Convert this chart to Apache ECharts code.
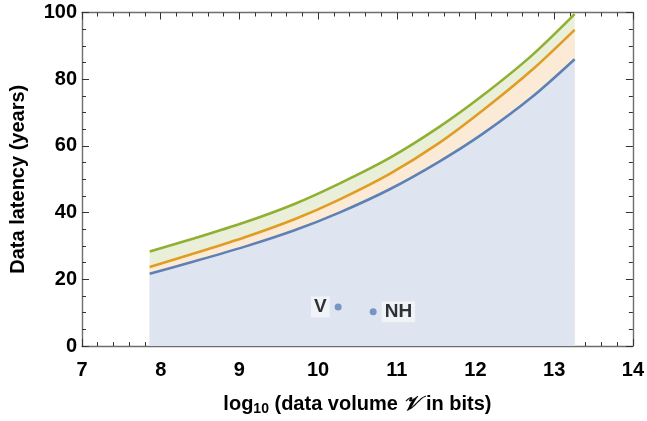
<!DOCTYPE html>
<html>
<head>
<meta charset="utf-8">
<script src="https://cdn.jsdelivr.net/npm/echarts@6/dist/echarts.min.js"></script>
<style>
html,body{margin:0;padding:0;background:#fff;}
#c{width:647px;height:421px;}
</style>
</head>
<body>
<div id="c"></div>
<script>
// log10 of data volume (bits)
var volumeX = [7.86, 8.43, 9.07, 9.70, 10.27, 10.91, 11.54, 12.09, 12.71, 13.26];
// data latency (years)
var lowerY  = [21.7, 25.4, 29.8, 34.7, 40.0, 47.0, 55.3, 63.6, 74.5, 86.0];
var midY    = [23.7, 27.8, 32.6, 38.0, 43.9, 51.6, 60.9, 70.6, 82.6, 94.8];
var upperY  = [28.3, 32.3, 37.1, 42.6, 48.7, 56.4, 65.7, 75.1, 87.0, 99.5];
// missions
var missionNames = ['V', 'NH'];
var missionX = [10.255, 10.70];
var missionY = [11.7, 10.3];
var xTicks = [7, 8, 9, 10, 11, 12, 13, 14];
var yTicks = [0, 20, 40, 60, 80, 100];

function pairs(xs, ys){ return xs.map(function(x,i){ return [x, ys[i]]; }); }

var FONT = '"Liberation Sans", Arial, sans-serif';
var frameColor = '#6e6e6e';
var blue = '#5E81B5', orange = '#E19C24', green = '#8FB032';

var chart = echarts.init(document.getElementById('c'), null, {renderer:'canvas'});

var baseAxis = {
  axisLine:{show:true, onZero:false, lineStyle:{color:frameColor, width:1.4}},
  axisTick:{show:true, inside:true, length:7, lineStyle:{color:'#333', width:1}},
  minorTick:{show:true, length:4, lineStyle:{color:'#333', width:1}},
  splitLine:{show:false}
};

chart.setOption({
  animation:false,
  backgroundColor:'#fff',
  grid:{left:82, right:13, top:12.5, bottom:69, containLabel:false},
  xAxis:[
    Object.assign({}, baseAxis, {
      type:'value', min:xTicks[0], max:xTicks[xTicks.length-1], interval:1,
      minorTick:Object.assign({}, baseAxis.minorTick, {splitNumber:5}),
      axisLabel:{color:'#000', fontFamily:FONT, fontWeight:'bold', fontSize:20, margin:14},
      name:'log{s|10} (data volume {v|𝒱} in bits)',
      nameLocation:'middle', nameGap:47,
      nameTextStyle:{color:'#000', fontFamily:FONT, fontWeight:'bold', fontSize:20,
        rich:{s:{fontFamily:FONT, fontWeight:'bold', fontSize:14, padding:[9,0,0,0], color:'#000'},
              v:{fontFamily:'"DejaVu Serif", serif', fontStyle:'italic', fontSize:20, color:'#000'}}}
    }),
    Object.assign({}, baseAxis, {
      type:'value', position:'top', min:xTicks[0], max:xTicks[xTicks.length-1], interval:1,
      minorTick:Object.assign({}, baseAxis.minorTick, {splitNumber:5}),
      axisLabel:{show:false}
    })
  ],
  yAxis:[
    Object.assign({}, baseAxis, {
      type:'value', min:yTicks[0], max:yTicks[yTicks.length-1], interval:20,
      minorTick:Object.assign({}, baseAxis.minorTick, {splitNumber:4}),
      axisLabel:{color:'#000', fontFamily:FONT, fontWeight:'bold', fontSize:20, margin:5},
      name:'Data latency (years)', nameLocation:'middle', nameGap:54,
      nameTextStyle:{color:'#000', fontFamily:FONT, fontWeight:'bold', fontSize:20}
    }),
    Object.assign({}, baseAxis, {
      type:'value', position:'right', min:yTicks[0], max:yTicks[yTicks.length-1], interval:20,
      minorTick:Object.assign({}, baseAxis.minorTick, {splitNumber:4}),
      axisLabel:{show:false}
    })
  ],
  series:[
    {type:'line', data:pairs(volumeX, upperY), smooth:0.3, symbol:'none',
     lineStyle:{color:green, width:2.6}, areaStyle:{color:'#e9efd9', opacity:1, origin:'start'}, z:2},
    {type:'line', data:pairs(volumeX, midY), smooth:0.3, symbol:'none',
     lineStyle:{color:orange, width:2.6}, areaStyle:{color:'#fbebd6', opacity:1, origin:'start'}, z:3},
    {type:'line', data:pairs(volumeX, lowerY), smooth:0.3, symbol:'none',
     lineStyle:{color:blue, width:2.6}, areaStyle:{color:'#dee4f0', opacity:1, origin:'start'}, z:4},
    {type:'scatter', symbolSize:7, z:6,
     itemStyle:{color:blue},
     data:missionX.map(function(x,i){
       return {value:[x, missionY[i]], name:missionNames[i],
         label:{show:true, formatter:missionNames[i], position:i===0?'left':'right', distance:5,
           color:'#000', fontFamily:FONT, fontWeight:'bold', fontSize:19,
           backgroundColor:'rgba(255,255,255,0.7)', padding:[2,3,0,3]}};
     })}
  ]
});
</script>
</body>
</html>
